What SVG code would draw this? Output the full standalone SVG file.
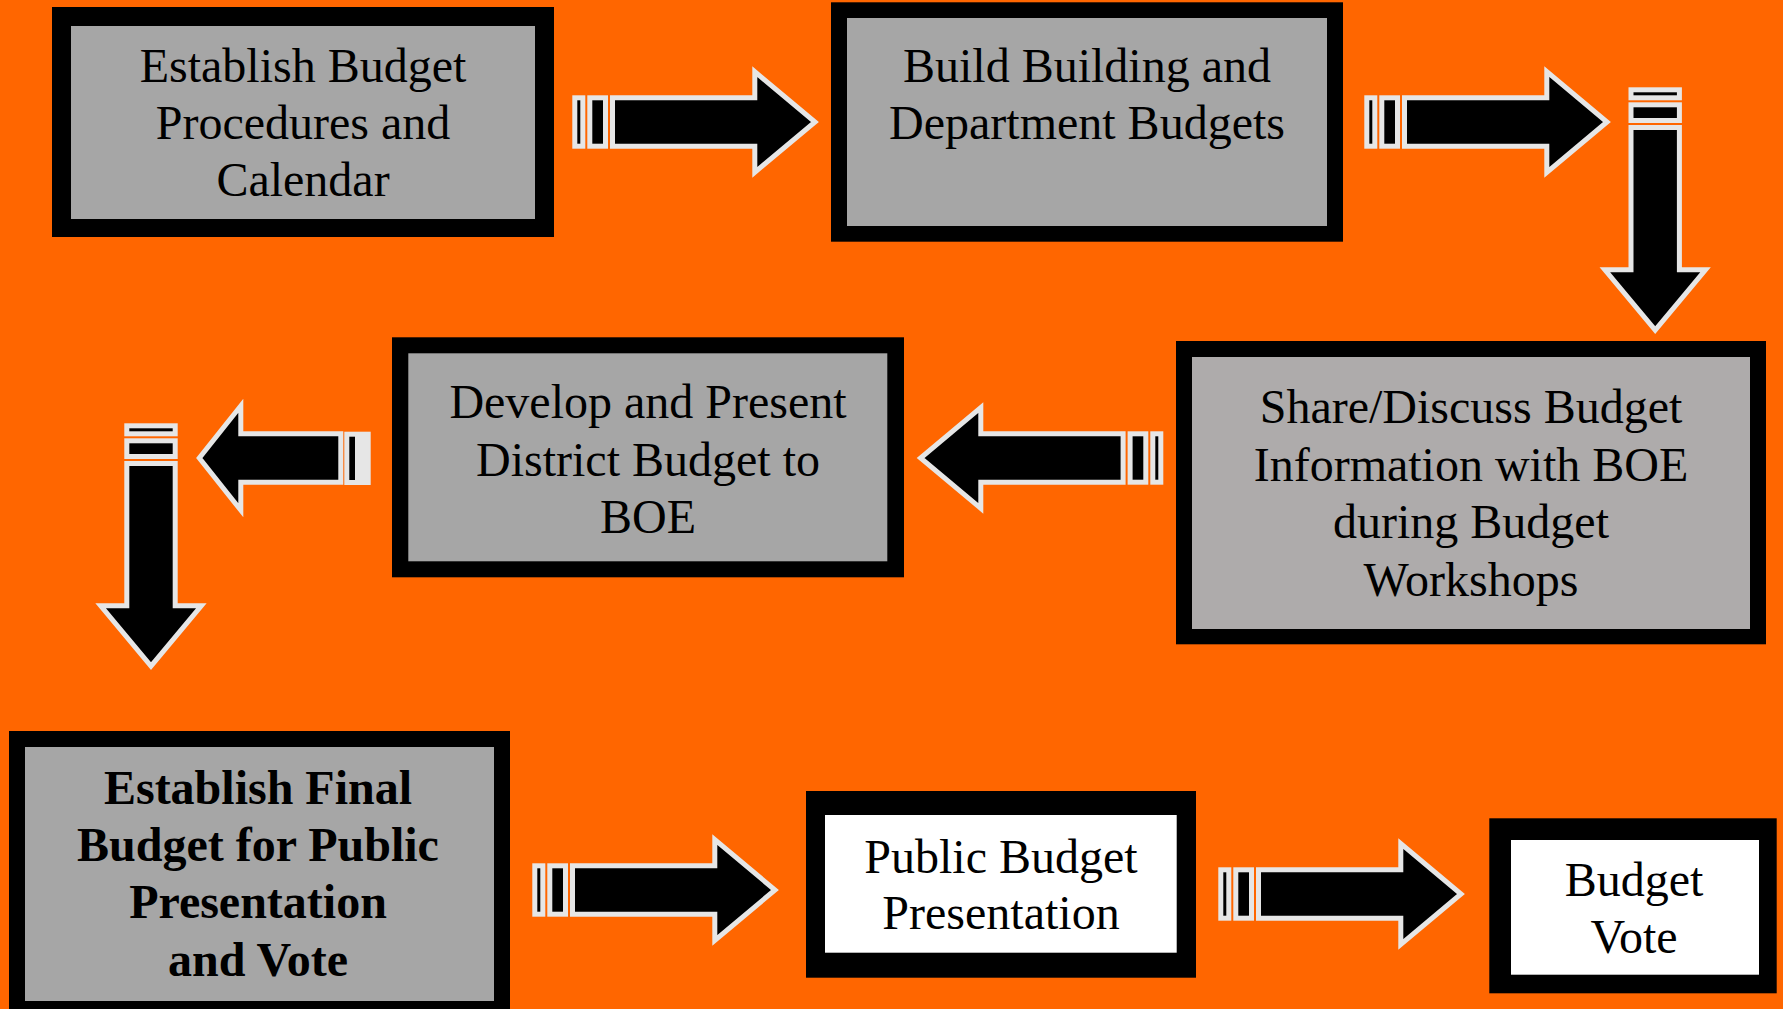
<svg xmlns="http://www.w3.org/2000/svg" width="1783" height="1009" viewBox="0 0 1783 1009">
<style>
.frame{fill:#000000}
.gray{fill:#a6a6a6}
.gray3{fill:#aeabab}
.white{fill:#ffffff}
.t{font-family:"Liberation Serif","Times New Roman",serif;font-size:48px;fill:#000000;text-anchor:middle}
.b{font-weight:bold}
.arw{fill:#000000;stroke:#e6e6e6;stroke-width:5;stroke-linejoin:miter;stroke-miterlimit:10}
</style>
<defs>
<g id="stripedArrow">
<rect class="arw" x="2.5" y="-24.2" width="8" height="48.4"/>
<rect class="arw" x="17.5" y="-24.2" width="15.7" height="48.4"/>
<path class="arw" d="M40.2,-24.2 H182.5 V-50.3 L242.7,0 L182.5,50.3 V24.2 H40.2 Z"/>
</g>
</defs>
<rect x="0" y="0" width="1783" height="1009" fill="#ff6600"/>

<g id="node1">
<rect class="frame" x="52" y="7" width="502" height="230"/>
<rect class="gray" x="71" y="26" width="464" height="193"/>
<text class="t" x="303" y="82">Establish Budget</text>
<text class="t" x="303" y="139">Procedures and</text>
<text class="t" x="303" y="196">Calendar</text>
</g>

<g id="node2">
<rect class="frame" x="831" y="2.3" width="512" height="239.4"/>
<rect class="gray" x="847" y="18" width="480" height="208"/>
<text class="t" x="1087" y="82">Build Building and</text>
<text class="t" x="1087" y="139">Department Budgets</text>
</g>

<g id="node3">
<rect class="frame" x="1176" y="341" width="590" height="303.3"/>
<rect class="gray3" x="1192" y="357" width="558" height="272"/>
<text class="t" x="1471" y="423">Share/Discuss Budget</text>
<text class="t" x="1471" y="480.5">Information with BOE</text>
<text class="t" x="1471" y="538">during Budget</text>
<text class="t" x="1471" y="595.5">Workshops</text>
</g>

<g id="node4">
<rect class="frame" x="392" y="337.3" width="512" height="240"/>
<rect class="gray" x="408.3" y="353.3" width="479" height="208"/>
<text class="t" x="648" y="418.3">Develop and Present</text>
<text class="t" x="648" y="475.7">District Budget to</text>
<text class="t" x="648" y="532.7">BOE</text>
</g>

<g id="node5">
<rect class="frame" x="9" y="731" width="501" height="290"/>
<rect class="gray" x="25" y="747" width="469" height="254"/>
<text class="t b" x="258" y="804">Establish Final</text>
<text class="t b" x="258" y="861">Budget for Public</text>
<text class="t b" x="258" y="917.5">Presentation</text>
<text class="t b" x="258" y="975.5">and Vote</text>
</g>

<g id="node6">
<rect class="frame" x="806" y="791" width="390" height="186.7"/>
<rect class="white" x="825" y="815" width="351.7" height="137.7"/>
<text class="t" x="1001" y="872.7">Public Budget</text>
<text class="t" x="1001" y="929.3">Presentation</text>
</g>

<g id="node7">
<rect class="frame" x="1489.3" y="818.3" width="287.4" height="175"/>
<rect class="white" x="1511" y="840" width="248" height="134.7"/>
<text class="t" x="1634" y="895.7">Budget</text>
<text class="t" x="1634" y="953.3">Vote</text>
</g>

<g id="connectors">
<use href="#stripedArrow" transform="translate(572.3,122)"/>
<use href="#stripedArrow" transform="translate(1364.3,122)"/>
<use href="#stripedArrow" transform="translate(1655.2,87.3) rotate(90)"/>
<use href="#stripedArrow" transform="translate(1163.3,458) scale(-1,1)"/>
<g id="arrow-left-short">
<rect x="360" y="431.7" width="10.7" height="53.3" fill="#e6e6e6"/>
<rect class="arw" x="346.8" y="434.2" width="10.7" height="48.3"/>
<path class="arw" d="M340.8,433.8 H240.8 V405.8 L199.3,458 L240.8,510.2 V482.2 H340.8 Z"/>
</g>
<use href="#stripedArrow" transform="translate(151,423.3) rotate(90)"/>
<use href="#stripedArrow" transform="translate(532.3,890)"/>
<use href="#stripedArrow" transform="translate(1218.3,894)"/>
</g>
</svg>
